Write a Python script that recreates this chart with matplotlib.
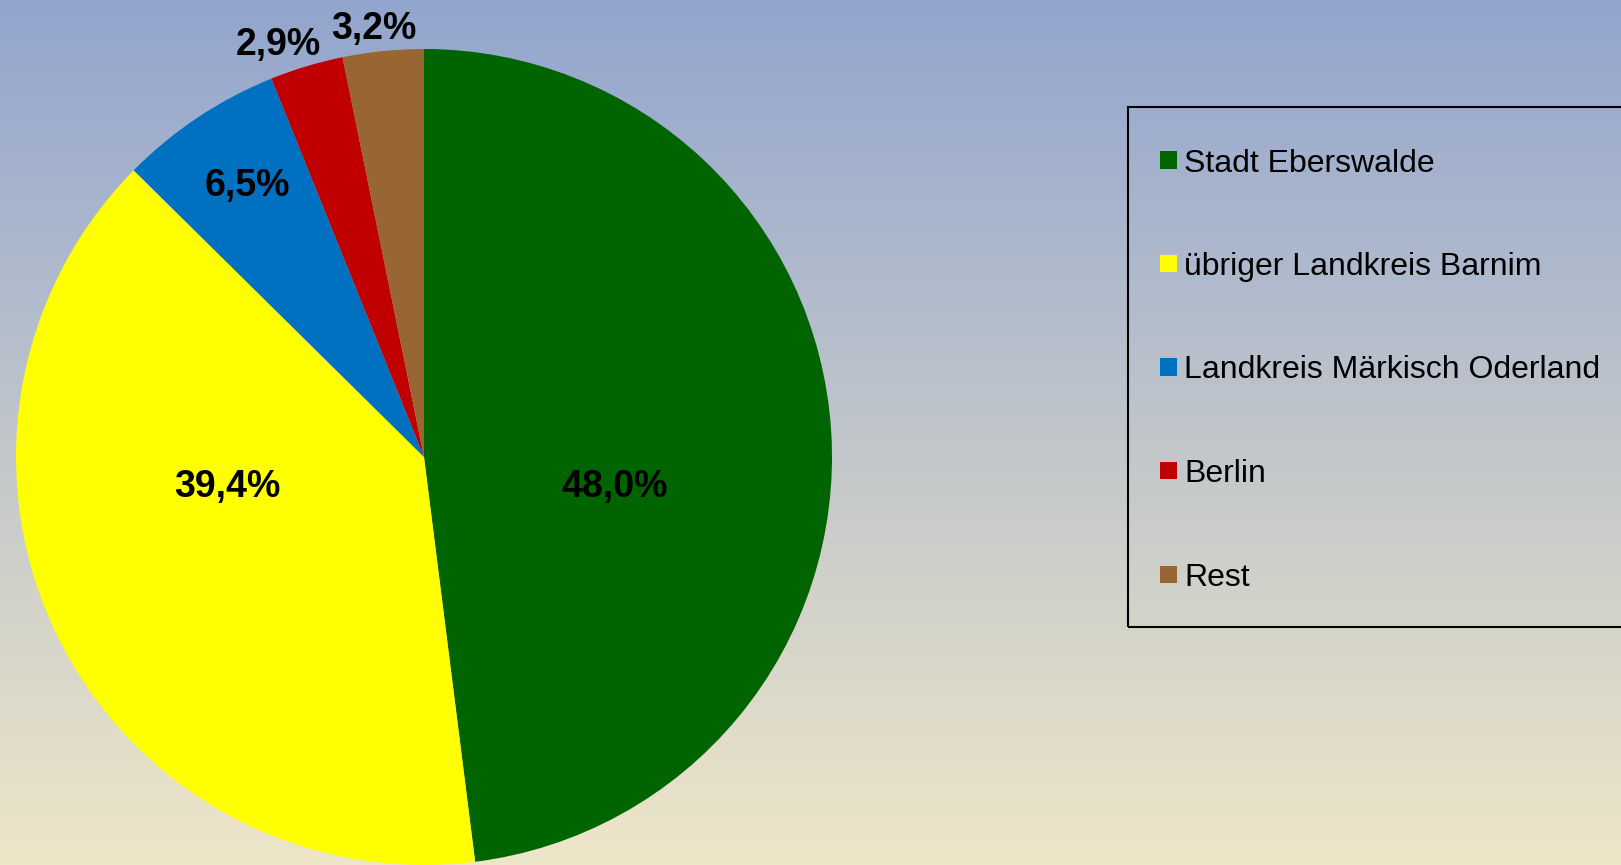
import numpy as np
import matplotlib
matplotlib.use("Agg")
import matplotlib.pyplot as plt
from matplotlib.patches import Rectangle

categories = ["Stadt Eberswalde", "übriger Landkreis Barnim", "Landkreis Märkisch Oderland", "Berlin", "Rest"]
values = [48.0, 39.4, 6.5, 2.9, 3.2]
labels = ["48,0%", "39,4%", "6,5%", "2,9%", "3,2%"]
colors = ["#006400", "#FFFF00", "#0070C0", "#C00000", "#996633"]

# label positions (fractions of radius, relative to pie centre)
label_pos = [(0.468, -0.063), (-0.482, -0.063), (-0.434, 0.674), (-0.358, 1.019), (-0.123, 1.059)]

W, H = 1621, 865
fig = plt.figure(figsize=(W / 100, H / 100), dpi=100)
plt.rcParams['font.family'] = ['Liberation Sans', 'DejaVu Sans']

# background gradient
bg = fig.add_axes([0, 0, 1, 1], zorder=-10)
top = np.array([146, 165, 206]) / 255
bot = np.array([238, 230, 200]) / 255
t = np.linspace(0, 1, 256)[:, None]
grad = (top[None, :] * (1 - t) + bot[None, :] * t)[:, None, :]
bg.imshow(grad, aspect='auto', extent=[0, 1, 0, 1])
bg.set_axis_off()

cx, cy, r = 424, 457, 408
ax = fig.add_axes([(cx - r) / W, (H - cy - r) / H, 2 * r / W, 2 * r / H])
wedges, _ = ax.pie(values, colors=colors, startangle=90, counterclock=False,
                   radius=1, wedgeprops=dict(linewidth=0))
ax.set_xlim(-1, 1)
ax.set_ylim(-1, 1)
ax.set_axis_off()
for lab, (lx, ly) in zip(labels, label_pos):
    ax.text(lx, ly, lab, ha='center', va='center_baseline', fontsize=27, fontweight='bold',
            color='black', clip_on=False)

# legend box
lx0, ly0, ly1 = 1128, 107, 627
fig.patches.append(Rectangle((lx0 / W, (H - ly1) / H), (W + 20 - lx0) / W, (ly1 - ly0) / H,
                             transform=fig.transFigure, facecolor='none', edgecolor='black',
                             linewidth=1.5, clip_on=False))
row0, dy = 160, 103.5
for i, (cat, col) in enumerate(zip(categories, colors)):
    yc = row0 + i * dy
    fig.patches.append(Rectangle((1160 / W, (H - yc - 8.5) / H), 17 / W, 17 / H,
                                 transform=fig.transFigure, facecolor=col, edgecolor='none'))
    fig.text(1184 / W, (H - yc) / H, cat, ha='left', va='center_baseline', fontsize=23, color='black')

fig.savefig("out.png", dpi=100)
